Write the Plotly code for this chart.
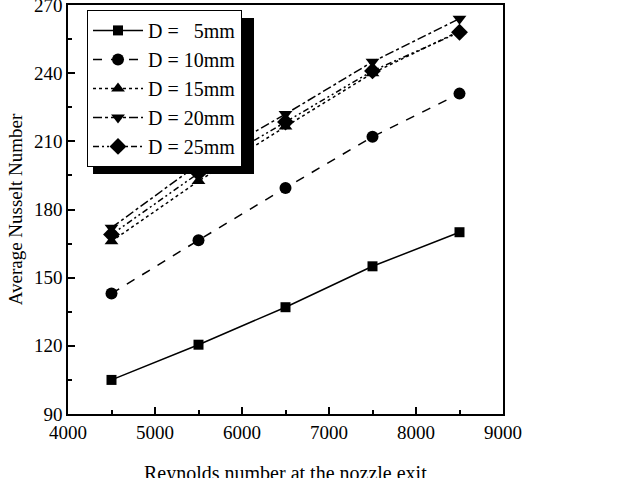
import plotly.graph_objects as go

re_vals = [4500, 5500, 6500, 7500, 8500]
labels = ["D =\u00a0\u00a0\u00a05mm", "D = 10mm", "D = 15mm", "D = 20mm", "D = 25mm"]
nu_5 = [105, 120.5, 137, 155, 170]
nu_10 = [143, 166.5, 189.5, 212, 231]
nu_15 = [166, 192.5, 216.5, 240, 258.5]
nu_20 = [172, 200, 222, 245, 264]
nu_25 = [169, 196, 218.5, 241, 258]

series = [nu_5, nu_10, nu_15, nu_20, nu_25]
dashes = ["solid", "dash", "dot", "dashdot", "6px,3px,2px,3px,2px,3px"]
symbols = ["square", "circle", "triangle-up", "triangle-down", "diamond"]
msizes = [10, 12, 12, 12, 13]

fig = go.Figure()
for name, ys, d, s, ms in zip(labels, series, dashes, symbols, msizes):
    fig.add_trace(go.Scatter(
        x=re_vals, y=ys, name=name, mode="lines+markers",
        line=dict(color="black", width=1.5, dash=d),
        marker=dict(symbol=s, size=ms, color="black"),
    ))

font = dict(family="Liberation Serif, Times New Roman, serif", color="black")

fig.update_layout(
    width=617, height=478,
    margin=dict(l=68, r=114, t=5, b=64, autoexpand=False),
    paper_bgcolor="white", plot_bgcolor="white",
    font=dict(**font, size=19),
    showlegend=True,
    legend=dict(
        x=0.0437, y=0.988, xanchor="left", yanchor="top",
        bgcolor="white", bordercolor="black", borderwidth=1,
        font=dict(**font, size=20), itemwidth=50, tracegroupgap=0,
    ),
    shapes=[dict(type="rect", xref="paper", yref="paper",
                 x0=0.0575, x1=0.4276, y0=0.587, y1=0.968,
                 fillcolor="black", line=dict(width=0), layer="below")],
    annotations=[dict(text="Reynolds number at the nozzle exit", xref="paper", yref="paper",
                      x=0.5, y=-0.146, xanchor="center", yanchor="middle", showarrow=False,
                      font=dict(**font, size=20))],
)
fig.update_xaxes(
    range=[4000, 9000], tickvals=[4000, 5000, 6000, 7000, 8000, 9000],
    ticks="inside", ticklen=7, tickwidth=1.5, tickcolor="black",
    minor=dict(dtick=500, ticks="inside", ticklen=4, tickcolor="black"),
    showline=True, linecolor="black", linewidth=1.5, mirror=True,
    showgrid=False, zeroline=False, ticklabeloverflow="allow", automargin=False,
    tickfont=dict(**font, size=19),
)
fig.update_yaxes(
    range=[90, 270], tickvals=[90, 120, 150, 180, 210, 240, 270],
    ticks="inside", ticklen=7, tickwidth=1.5, tickcolor="black",
    minor=dict(dtick=15, ticks="inside", ticklen=4, tickcolor="black"),
    showline=True, linecolor="black", linewidth=1.5, mirror=True,
    showgrid=False, zeroline=False, ticklabeloverflow="allow", automargin=False,
    title=dict(text="Average Nusselt Number", font=dict(**font, size=19), standoff=6),
    tickfont=dict(**font, size=19),
)

fig.write_html("out.html")
